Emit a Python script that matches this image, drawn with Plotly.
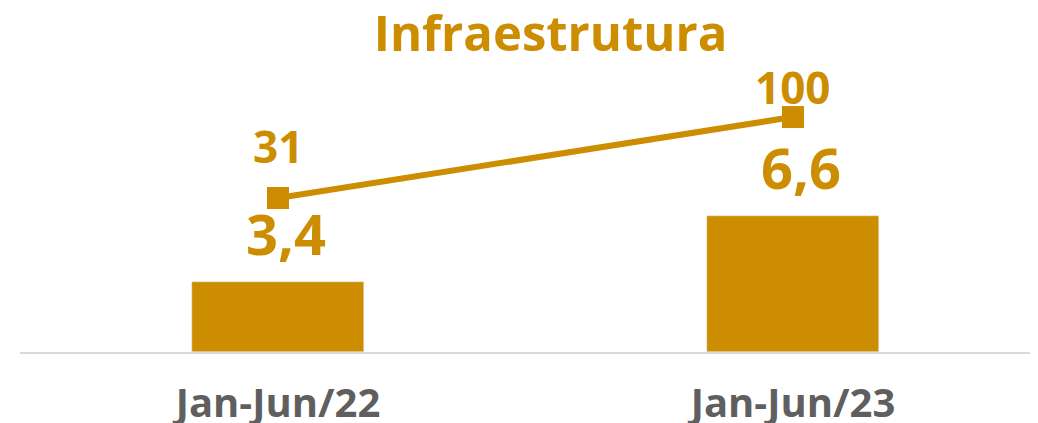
import plotly.graph_objects as go

categories = ["Jan-Jun/22", "Jan-Jun/23"]
bar_values = [3.4, 6.6]
bar_labels = ["3,4", "6,6"]
line_values = [31, 100]
line_labels = ["31", "100"]
title_text = "Infraestrutura"

GOLD = "#CD8D00"
GRAY = "#5F5F5F"
FONT = "Open Sans"

# style: offsets (px) of labels, as in the original manual placement
bar_label_shift = [49, 49]
bar_label_xshift = 8
line_label_shift = [52, 30]

# the page body adds an 8px margin, so the figure is drawn 8px smaller
W, H = 1030, 415

fig = go.Figure()
fig.add_trace(go.Bar(
    x=categories, y=bar_values, marker_color=GOLD, width=0.334,
    showlegend=False, hoverinfo="skip", yaxis="y"))
fig.add_trace(go.Scatter(
    x=categories, y=line_values, mode="lines+markers", yaxis="y2",
    line=dict(color=GOLD, width=6),
    marker=dict(symbol="square", size=22, color=GOLD),
    showlegend=False, hoverinfo="skip"))

annotations = []
for c, v, t, s in zip(categories, bar_values, bar_labels, bar_label_shift):
    annotations.append(dict(x=c, y=v, xref="x", yref="y", text=t, showarrow=False,
                            yanchor="middle", yshift=s, xshift=bar_label_xshift,
                            font=dict(family=FONT, size=56, color=GOLD, weight="bold")))
for c, v, t, s in zip(categories, line_values, line_labels, line_label_shift):
    annotations.append(dict(x=c, y=v, xref="x", yref="y2", text=t, showarrow=False,
                            yanchor="middle", yshift=s,
                            font=dict(family=FONT, size=44, color=GOLD, weight="bold")))

fig.update_layout(
    width=W, height=H,
    margin=dict(l=12, r=3, t=52, b=71, autoexpand=False),
    paper_bgcolor="white", plot_bgcolor="white",
    title=dict(text=title_text, x=542.5 / W, xanchor="center", y=1 - 26 / H,
               yanchor="middle", yref="container",
               font=dict(family=FONT, size=49, color=GOLD, weight="bold")),
    xaxis=dict(type="category", range=[-0.501, 1.470], showgrid=False,
               showline=True, linecolor="#D9D9D9", linewidth=2,
               ticks="", ticklabelstandoff=15, automargin=False,
               tickfont=dict(family=FONT, size=40, color=GRAY, weight="bold")),
    yaxis=dict(range=[0, 14.17], visible=False, showgrid=False, zeroline=False,
               automargin=False),
    yaxis2=dict(range=[-100.2, 148.6], overlaying="y", visible=False,
                showgrid=False, zeroline=False, automargin=False),
    annotations=annotations,
    bargap=0,
)

fig.write_html("out.html")
